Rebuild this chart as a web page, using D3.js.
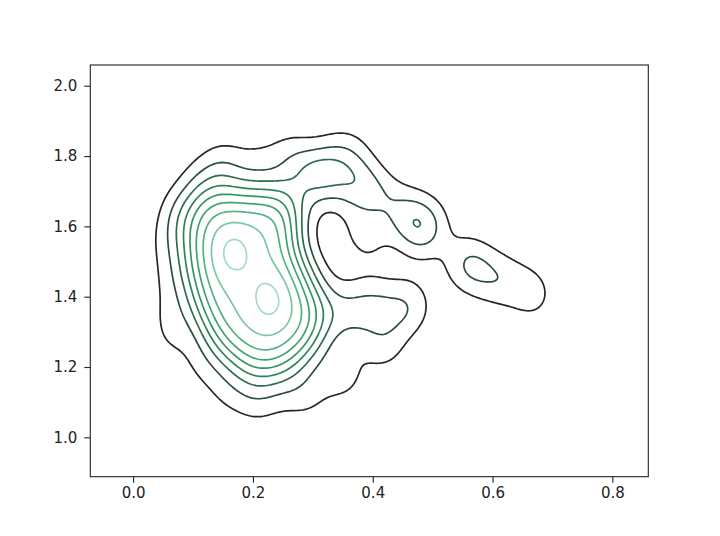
<!DOCTYPE html>
<html><head><meta charset="utf-8">
<script src="https://cdn.jsdelivr.net/npm/d3@7"></script>
<style>body{margin:0;background:#fff}svg{display:block}</style>
</head><body>
<svg id="chart" width="720" height="536"></svg>
<script>
// ---- data: sample points ----
const pointsX = [
  // main cluster, row by row (top to bottom)
  0.12,0.14,0.16,0.18,0.20,0.22,0.24,0.26,
  0.11,0.13,0.15,0.17,0.19,0.21,0.23,0.25,0.27,
  0.10,0.12,0.14,0.16,0.18,0.20,0.22,0.24,0.26,
  0.10,0.12,0.14,0.16,0.18,0.20,0.22,0.24,0.26,
  0.10,0.12,0.14,0.16,0.18,0.20,0.22,0.24,0.26,
  0.10,0.12,0.14,0.16,0.18,0.20,0.22,0.24,0.26,0.28,
  0.11,0.13,0.15,0.17,0.19,0.21,0.23,0.25,0.27,0.29,
  0.11,0.13,0.15,0.17,0.19,0.21,0.23,0.25,0.27,0.29,
  0.12,0.14,0.16,0.18,0.20,0.22,0.24,0.26,0.28,0.30,
  0.13,0.15,0.17,0.19,0.21,0.23,0.25,0.27,0.29,0.31,
  0.14,0.16,0.18,0.20,0.22,0.24,0.26,0.28,0.30,
  0.16,0.18,0.20,0.22,0.24,0.26,0.28,
  0.19,0.21,0.23,0.25,
  // the two peaks
  0.17,0.165,0.225,0.23,
  // upper arm and hook
  0.27,0.295,0.305,0.312,0.318,0.34,0.36,0.37,0.39,0.40,0.42,0.45,0.46,0.47,0.48,0.50,0.49,
  // lower arm
  0.32,0.35,0.38,0.41,0.44,0.46,0.47,0.36,0.40,
  // sparse halo
  0.41,0.43,0.34,0.36,0.27,0.30,0.19,0.22,0.15,0.11,0.065,0.06,0.06,0.055,0.07,0.08,0.11,0.14,0.16,0.21,0.26,0.34,0.37,0.37,0.40,0.545,0.57,
  // neck and far lobe
  0.56,0.59,0.61,0.63,0.66,0.675
];
const pointsY = [
  1.68,1.68,1.68,1.68,1.68,1.68,1.68,1.68,
  1.64,1.64,1.64,1.64,1.64,1.64,1.64,1.64,1.64,
  1.60,1.60,1.60,1.60,1.60,1.60,1.60,1.60,1.60,
  1.56,1.56,1.56,1.56,1.56,1.56,1.56,1.56,1.56,
  1.52,1.52,1.52,1.52,1.52,1.52,1.52,1.52,1.52,
  1.48,1.48,1.48,1.48,1.48,1.48,1.48,1.48,1.48,1.48,
  1.44,1.44,1.44,1.44,1.44,1.44,1.44,1.44,1.44,1.44,
  1.40,1.40,1.40,1.40,1.40,1.40,1.40,1.40,1.40,1.40,
  1.36,1.36,1.36,1.36,1.36,1.36,1.36,1.36,1.36,1.36,
  1.32,1.32,1.32,1.32,1.32,1.32,1.32,1.32,1.32,1.32,
  1.28,1.28,1.28,1.28,1.28,1.28,1.28,1.28,1.28,
  1.24,1.24,1.24,1.24,1.24,1.24,1.24,
  1.20,1.20,1.20,1.20,
  1.52,1.53,1.395,1.39,
  1.77,1.745,1.75,1.745,1.742,1.755,1.72,1.73,1.70,1.71,1.67,1.65,1.615,1.61,1.59,1.62,1.58,
  1.38,1.36,1.38,1.36,1.38,1.36,1.38,1.33,1.37,
  1.25,1.27,1.18,1.17,1.12,1.12,1.11,1.10,1.13,1.20,1.28,1.35,1.45,1.55,1.62,1.66,1.73,1.77,1.78,1.80,1.81,1.81,1.81,1.58,1.55,1.50,1.50,
  1.48,1.46,1.45,1.44,1.42,1.40
];
const xTicks = [0.0, 0.2, 0.4, 0.6, 0.8];
const yTicks = [1.0, 1.2, 1.4, 1.6, 1.8, 2.0];
const levelCount = 9;          // contour lines drawn, evenly spaced in density
const peakToStep = 9.3;        // peak density measured in level steps
const bandwidth = {x: 0.027, y: 0.06};
const lineColors = ['#262626', '#2e4e3d', '#2f6b4c', '#2f825a', '#359466', '#3fa371', '#55b083', '#7cc6a2', '#a6dcc2'];

// ---- layout ----
const svg = d3.select('#chart');
const L = 90.3, R = 648.3, T = 65, B = 476.7;
const x = d3.scaleLinear().domain([-0.0715, 0.860]).range([L, R]);
const y = d3.scaleLinear().domain([0.888, 2.059]).range([B, T]);

// ---- KDE on a grid ----
const step = 2;
const nx = Math.ceil((R - L) / step) + 1, ny = Math.ceil((B - T) / step) + 1;
const values = new Float64Array(nx * ny);
const n = Math.min(pointsX.length, pointsY.length);
for (let j = 0; j < ny; j++) {
  const gy = y.invert(T + j * step);
  for (let i = 0; i < nx; i++) {
    const gx = x.invert(L + i * step);
    let s = 0;
    for (let k = 0; k < n; k++) {
      const dx = (gx - pointsX[k]) / bandwidth.x, dy = (gy - pointsY[k]) / bandwidth.y;
      s += Math.exp(-0.5 * (dx * dx + dy * dy));
    }
    values[j * nx + i] = s / n;
  }
}
const zmax = d3.max(values);
const levels = d3.range(1, levelCount + 1).map(k => k * zmax / peakToStep);

const contours = d3.contours().size([nx, ny]).thresholds(levels)(values);
const proj = d3.geoTransform({
  point: function(px, py) {
    this.stream.point(L + (px - 0.5) * step, T + (py - 0.5) * step);
  }
});
const path = d3.geoPath(proj);

svg.append('defs').append('clipPath').attr('id', 'clip')
  .append('rect').attr('x', L).attr('y', T).attr('width', R - L).attr('height', B - T);

svg.append('g').attr('clip-path', 'url(#clip)')
  .selectAll('path').data(contours).join('path')
  .attr('d', path)
  .attr('fill', 'none')
  .attr('stroke', (d, i) => lineColors[i])
  .attr('stroke-width', 1.7)
  .attr('stroke-linejoin', 'round');

// ---- axes ----
const font = 'DejaVu Sans, sans-serif';
const xAxis = svg.append('g').attr('transform', `translate(0,${B})`)
  .call(d3.axisBottom(x).tickValues(xTicks).tickFormat(d3.format('.1f')).tickSize(6).tickPadding(5));
const yAxis = svg.append('g').attr('transform', `translate(${L},0)`)
  .call(d3.axisLeft(y).tickValues(yTicks).tickFormat(d3.format('.1f')).tickSize(6).tickPadding(7));
[xAxis, yAxis].forEach(a => {
  a.select('.domain').remove();
  a.selectAll('line').attr('stroke', '#222').attr('stroke-width', 1.1);
  a.selectAll('text').attr('fill', '#222').attr('font-family', font).attr('font-size', 15);
});
svg.append('rect').attr('x', L).attr('y', T).attr('width', R - L).attr('height', B - T)
  .attr('fill', 'none').attr('stroke', '#222').attr('stroke-width', 1.1);
</script>
</body></html>
